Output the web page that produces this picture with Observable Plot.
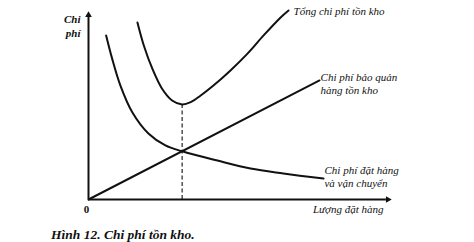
<!DOCTYPE html>
<html>
<head>
<meta charset="utf-8">
<script src="https://cdn.jsdelivr.net/npm/d3@7"></script>
<script src="https://cdn.jsdelivr.net/npm/@observablehq/plot@0.6"></script>
<style>
  html, body { margin: 0; padding: 0; background: #fff; }
  #caption { font-family: "Liberation Serif", serif; font-style: italic; font-weight: bold; font-size: 13.5px; line-height: 16px; padding-left: 51px; padding-top: 3px; color: #111; }
</style>
</head>
<body>
<div id="chart"></div>
<div id="caption"></div>
<script>
// Data (arbitrary units: quantity 0–100, cost 0–100)
const holdingX = [0, 76.0];
const holdingY = [0, 63.0];
const orderingX = [5.8, 7.8, 10.5, 14.4, 19.8, 25.3, 30.8, 42.4, 53.3, 64.1, 77.3];
const orderingY = [86.8, 74.4, 60.3, 46.2, 34.8, 28.6, 25.5, 20.6, 16.4, 13.8, 11.1];
const totalX = [16.1, 18.2, 21.0, 24.2, 27.5, 30.8, 33.6, 36.8, 41.1, 46.7, 52.3, 57.6, 63.2, 65.8];
const totalY = [93.7, 81.5, 69.2, 58.6, 52.4, 50.3, 51.5, 54.9, 60.3, 68.3, 77.2, 86.8, 96.3, 100];
const labels = {
  total: "Tổng chi phí tồn kho",
  holding: "Chi phí bảo quản\nhàng tồn kho",
  ordering: "Chi phí đặt hàng\nvà vận chuyển",
  xAxis: "Lượng đặt hàng",
  yAxis: "Chi\nphí",
  origin: "0",
  caption: "Hình 12. Chi phí tồn kho."
};
const xMax = 100, yMax = 100;

const toPts = (xs, ys) => xs.map((x, i) => ({x, y: ys[i]}));
const holding = toPts(holdingX, holdingY);
const ordering = toPts(orderingX, orderingY);
const total = toPts(totalX, totalY);
const minPt = d3.least(total, d => d.y);
const font = "Liberation Serif";

const chart = Plot.plot({
  width: 474,
  height: 224,
  marginLeft: 88,
  marginRight: 82,
  marginTop: 10,
  marginBottom: 25,
  x: {domain: [0, xMax], axis: null},
  y: {domain: [0, yMax], axis: null},
  style: {fontFamily: font, background: "#fff", color: "#111"},
  marks: [
    // axes
    Plot.ruleX([0], {y1: 0, y2: yMax - 3, stroke: "#111", strokeWidth: 2}),
    Plot.ruleY([0], {x1: 0, x2: xMax - 2, stroke: "#111", strokeWidth: 2}),
    Plot.dot([{x: 0, y: yMax}], {x: "x", y: "y", symbol: "triangle2", r: 3.2, fill: "#111", dy: 4.6}),
    Plot.dot([{x: xMax, y: 0}], {x: "x", y: "y", symbol: "triangle2", r: 3.2, fill: "#111", rotate: 90, dx: -4.6}),
    // dashed EOQ line
    Plot.ruleX([minPt], {x: "x", y1: 0, y2: "y", stroke: "#111", strokeWidth: 1.1, strokeDasharray: "4,2.5"}),
    // curves
    Plot.line(holding, {x: "x", y: "y", stroke: "#111", strokeWidth: 2}),
    Plot.line(ordering, {x: "x", y: "y", stroke: "#111", strokeWidth: 2, curve: "catmull-rom"}),
    Plot.line(total, {x: "x", y: "y", stroke: "#111", strokeWidth: 2, curve: "catmull-rom"}),
    // labels
    Plot.text([total.at(-1)], {x: "x", y: "y", text: () => labels.total, textAnchor: "start", dx: 5, dy: 1, fontStyle: "italic", fontSize: 11, fill: "#111"}),
    Plot.text([holding.at(-1)], {x: "x", y: "y", text: () => labels.holding, textAnchor: "start", dx: 1, dy: 2.5, lineHeight: 1.2, fontStyle: "italic", fontSize: 11, fill: "#111"}),
    Plot.text([ordering.at(-1)], {x: "x", y: "y", text: () => labels.ordering, textAnchor: "start", dx: 1, dy: -2.5, lineHeight: 1.2, fontStyle: "italic", fontSize: 11, fill: "#111"}),
    Plot.text([{x: xMax, y: 0}], {x: "x", y: "y", text: () => labels.xAxis, textAnchor: "end", dx: -9, dy: 10, fontStyle: "italic", fontSize: 11, fill: "#111"}),
    Plot.text([{x: 0, y: yMax}], {x: "x", y: "y", text: () => labels.yAxis, textAnchor: "end", dx: -8, dy: 15, lineHeight: 1.27, fontStyle: "italic", fontWeight: "bold", fontSize: 11, fill: "#111"}),
    Plot.text([{x: 0, y: 0}], {x: "x", y: "y", text: () => labels.origin, textAnchor: "middle", dx: -2, dy: 10, fontSize: 11, fontWeight: "bold", fill: "#111"})
  ]
});
document.getElementById("chart").append(chart);
document.getElementById("caption").textContent = labels.caption;
</script>
</body>
</html>
